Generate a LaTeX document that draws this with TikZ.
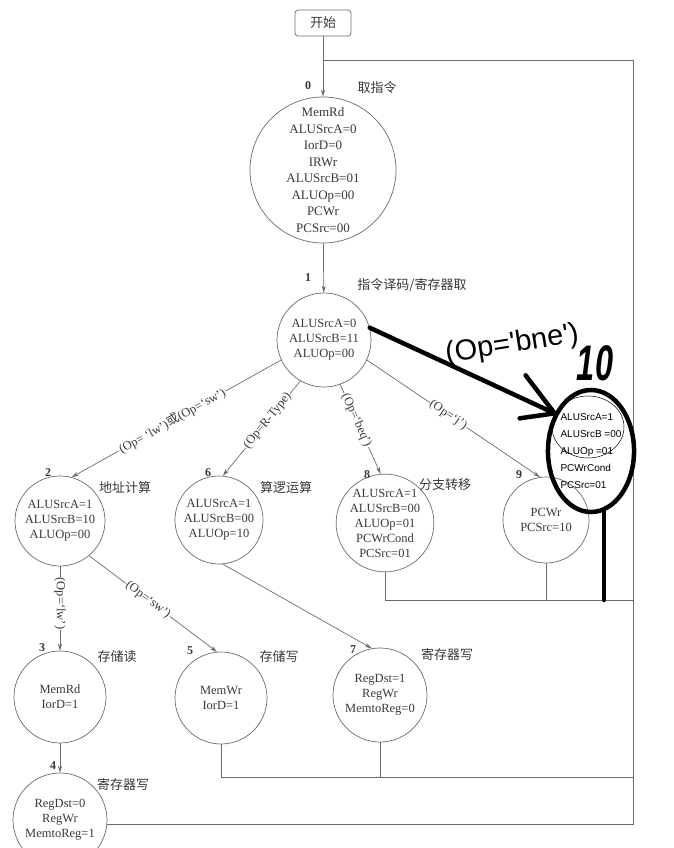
\documentclass[tikz,border=0pt]{standalone}
\usepackage{xcolor}
\usepackage{fontspec}
\usepackage{tikz}
\usetikzlibrary{arrows.meta,shapes.geometric}
\setmainfont{Liberation Serif}
\newfontfamily\cjk{Noto Sans CJK SC}
\newfontfamily\hand{Liberation Sans}
\definecolor{ink}{gray}{0.22}
\definecolor{rule}{gray}{0.42}

\tikzset{
	state/.style={draw=rule, circle, inner sep=0pt, line width=0.7pt, text=ink, align=center, font=\fontsize{12.5}{15}\selectfont},
	startbox/.style={draw=rule, rounded corners=3pt, line width=0.7pt, minimum width=56pt, minimum height=26pt, text=ink, font=\cjk\fontsize{13}{13}\selectfont},
	stnum/.style={text=ink, font=\bfseries\fontsize{12}{12}\selectfont},
	stname/.style={text=ink, font=\cjk\fontsize{13}{13}\selectfont},
	cond/.style={sloped, fill=white, inner sep=1pt, text=ink, font=\fontsize{12.5}{12.5}\selectfont},
	flow/.style={draw=rule, line width=0.7pt, -{Stealth[length=7pt,width=4pt]}},
	back/.style={draw=rule, line width=0.7pt},
	pen/.style={draw=black, line width=4.5pt, line cap=round},
}

\begin{document}
\begin{tikzpicture}[x=1pt,y=-1pt]
	\newcommand\railx{633}
	\newcommand\topy{60}
	\useasboundingbox (0,0) rectangle (673,848);

	\node[startbox] (start) at (323,23) {开始};

	% states
	\node[state, minimum size=146pt, font=\fontsize{13}{16.5}\selectfont] (s0) at (323,170) {MemRd\\ALUSrcA=0\\IorD=0\\IRWr\\ALUSrcB=01\\ALUOp=00\\PCWr\\PCSrc=00};
	\node[state, minimum size=94pt] (s1) at (324,340) {ALUSrcA=0\\ALUSrcB=11\\ALUOp=00};
	\node[state, minimum size=90pt] (s2) at (60,521) {ALUSrcA=1\\ALUSrcB=10\\ALUOp=00};
	\node[state, minimum size=88pt] (s6) at (219,520) {ALUSrcA=1\\ALUSrcB=00\\ALUOp=10};
	\node[state, minimum size=96pt] (s8) at (385,523) {ALUSrcA=1\\ALUSrcB=00\\ALUOp=01\\PCWrCond\\PCSrc=01};
	\node[state, minimum size=86pt] (s9) at (546,520) {PCWr\\PCSrc=10};
	\node[state, minimum size=92pt] (s3) at (60,697) {MemRd\\IorD=1};
	\node[state, minimum size=92pt] (s5) at (221,698) {MemWr\\IorD=1};
	\node[state, minimum size=94pt] (s7) at (380,695) {RegDst=1\\RegWr\\MemtoReg=0};
	\node[state, minimum size=94pt] (s4) at (60,820) {RegDst=0\\RegWr\\MemtoReg=1};

	\node[stnum] (n0) at (308,86) {0};
	\node[stnum] (n1) at (308,278) {1};
	\node[stnum] (n2) at (48,473) {2};
	\node[stnum] (n6) at (208,473) {6};
	\node[stnum] (n8) at (367,475) {8};
	\node[stnum] (n9) at (519,475) {9};
	\node[stnum] (n3) at (42,648) {3};
	\node[stnum] (n5) at (190,651) {5};
	\node[stnum] (n7) at (353,650) {7};
	\node[stnum] (n4) at (53,766) {4};

	\node[stname] (t0) at (377,88) {取指令};
	\node[stname] (t1) at (412,285) {指令译码/寄存器取};
	\node[stname] (t2) at (125,488) {地址计算};
	\node[stname] (t6) at (286,488) {算逻运算};
	\node[stname] (t8) at (445,485) {分支转移};
	\node[stname] (t3) at (117,657) {存储读};
	\node[stname] (t5) at (279,657) {存储写};
	\node[stname] (t7) at (447,655) {寄存器写};
	\node[stname] (t4) at (123,785) {寄存器写};

	% transitions
	\draw[flow] (start) -- (s0);
	\draw[flow] (s0) -- (s1);
	\draw[flow] (s1.-155) -- node[cond, pos=0.52] {(Op= `lw'){\cjk 或}(Op=`sw')} (s2.75);
	\draw[flow] (s1.-120) -- node[cond, pos=0.42] {(Op=R-Type)} (s6.85);
	\draw[flow] (s1.-70) -- node[cond, pos=0.4] {(Op=`beq')} (s8.95);
	\draw[flow] (s1.-25) -- node[cond, pos=0.47] {(Op=`j')} (s9.98);
	\draw[flow] (s2) -- node[cond, pos=0.44] {(Op=`lw')} (s3);
	\draw[flow] (s2.-50) -- node[cond, pos=0.46] {(Op=`sw')} (s5.95);
	\draw[flow] (s6.-85) -- (s7.100);
	\draw[flow] (s3) -- (s4);

	% back to fetch
	\coordinate (rail) at (\railx,\topy);
	\coordinate (ret4) at (s4.-5);
	\draw[back] (ret4) -- (ret4 -| rail) -- (rail) -- (rail -| start);
	\draw[back] (s5.south) |- (\railx,777);
	\draw[back] (s7.south) -- (s7.south |- \railx,777);
	\draw[back] (s8.south) |- (\railx,600);
	\draw[back] (s9.south) -- (s9.south |- \railx,600);

	% pen marks
	\node[pen, ellipse, inner sep=0pt, minimum width=86pt, minimum height=122pt, align=left, text=black, font=\hand\fontsize{10}{17}\selectfont] (s10) at (591,451) {ALUSrcA=1\\ALUSrcB =00\\ALUOp =01\\PCWrCond\\PCSrc=01};
	\draw[black, line width=0.5pt] (588,427) ellipse [x radius=36, y radius=31];
	\coordinate (bneTip) at (s10.134);
	\draw[pen] (s1.15) -- (bneTip);
	\draw[pen] (bneTip) -- ++(-29,-38);
	\draw[pen] (bneTip) -- ++(-35,5);
	\draw[pen] (s10.-78) -- (s10.-78 |- \railx,600);
	\node[rotate=9, font=\hand\fontsize{29}{29}\selectfont] (bne) at (512,345) {(Op='bne')};
	\node[xscale=0.65, font=\hand\bfseries\itshape\fontsize{50}{50}\selectfont] (ten) at (595,363) {10};
\end{tikzpicture}
\end{document}
